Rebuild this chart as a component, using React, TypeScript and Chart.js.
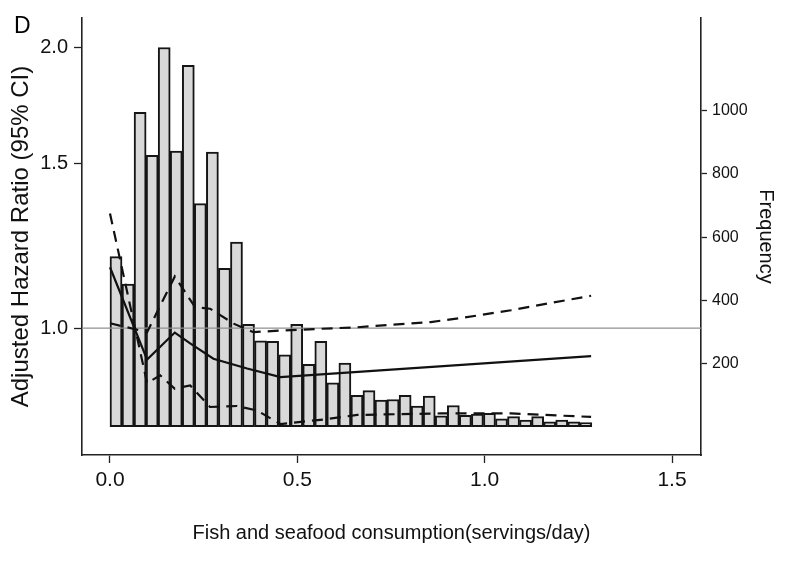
import React, { useEffect, useRef } from "react";
import { Chart, registerables } from "chart.js";

Chart.register(...registerables);

// Histogram of fish and seafood consumption (40 equal bins starting at 0)
const BIN_START = 0;
const BIN_WIDTH = 0.03215;
const FREQUENCY = [
  538, 451, 995, 859, 1200, 872, 1144, 706, 869, 501,
  584, 324, 272, 270, 227, 324, 197, 270, 139, 201,
  99, 114, 84, 86, 99, 65, 97, 34, 67, 36,
  40, 42, 25, 32, 21, 32, 15, 21, 15, 13,
];

// Adjusted hazard ratio curve (solid)
const EST_X = [0, 0.099, 0.173, 0.214, 0.276, 0.366, 0.455, 1.284];
const EST_HR = [1.162, 0.925, 0.989, 0.963, 0.927, 0.905, 0.886, 0.933];

// Confidence bounds (dashed)
const CI_A_X = [0, 0.099, 0.134, 0.173, 0.214, 0.267, 0.339, 0.392, 0.455, 0.57, 0.66, 0.882, 1.07, 1.284];
const CI_A_HR = [1.327, 0.873, 0.89, 0.861, 0.868, 0.823, 0.825, 0.816, 0.789, 0.798, 0.807, 0.81, 0.81, 0.803];
const CI_B_X = [0, 0.099, 0.173, 0.227, 0.267, 0.33, 0.383, 0.455, 0.66, 0.856, 0.944, 1.07, 1.177, 1.284];
const CI_B_HR = [1.012, 0.99, 1.136, 1.053, 1.049, 1.011, 0.99, 0.994, 1.002, 1.015, 1.026, 1.045, 1.064, 1.083];

const REF_HR = 1.0;

const X_TICKS = [0, 0.5, 1.0, 1.5];
const HR_TICKS = [1.0, 1.5, 2.0];
const FREQ_TICKS = [200, 400, 600, 800, 1000];

const X_TITLE = "Fish and seafood consumption(servings/day)";
const HR_TITLE = "Adjusted Hazard Ratio (95% CI)";
const FREQ_TITLE = "Frequency";
const PANEL = "D";

const FONT = '"Liberation Sans", Arial, Helvetica, sans-serif';

export default function App() {
  const ref = useRef<HTMLCanvasElement | null>(null);

  useEffect(() => {
    if (!ref.current) return;
    const X_MIN = -0.0747;
    const X_MAX = 1.5773;
    const pair = (xs: number[], ys: number[]) => xs.map((x, i) => ({ x, y: ys[i] }));
    const bars = FREQUENCY.map((f, i) => ({ x: BIN_START + (i + 0.5) * BIN_WIDTH, y: f }));

    const panelPlugin = {
      id: "panelLabel",
      afterDraw(chart: any) {
        const ctx = chart.ctx;
        ctx.save();
        ctx.font = `23px ${FONT}`;
        ctx.fillStyle = "#000";
        ctx.textBaseline = "alphabetic";
        ctx.textAlign = "left";
        ctx.fillText(PANEL, 14, 33);
        ctx.restore();
      },
    };

    const dash = [11, 7];

    const chart = new Chart(ref.current, {
      type: "line",
      data: {
        datasets: [
          {
            type: "line",
            data: pair(EST_X, EST_HR),
            xAxisID: "x",
            yAxisID: "y",
            borderColor: "#111",
            borderWidth: 2.2,
            pointRadius: 0,
            tension: 0,
            order: 1,
          },
          {
            type: "line",
            data: pair(CI_A_X, CI_A_HR),
            xAxisID: "x",
            yAxisID: "y",
            borderColor: "#111",
            borderWidth: 2.2,
            borderDash: dash,
            pointRadius: 0,
            tension: 0,
            order: 1,
          },
          {
            type: "line",
            data: pair(CI_B_X, CI_B_HR),
            xAxisID: "x",
            yAxisID: "y",
            borderColor: "#111",
            borderWidth: 2.2,
            borderDash: dash,
            pointRadius: 0,
            tension: 0,
            order: 1,
          },
          {
            type: "line",
            data: [
              { x: X_MIN, y: REF_HR },
              { x: X_MAX, y: REF_HR },
            ],
            xAxisID: "x",
            yAxisID: "y",
            borderColor: "#8f8f8f",
            borderWidth: 1.3,
            pointRadius: 0,
            order: 2,
          },
          {
            type: "bar",
            data: bars as any,
            xAxisID: "x",
            yAxisID: "yf",
            backgroundColor: "#d9d9d9",
            borderColor: "#151515",
            borderWidth: 2,
            borderSkipped: false,
            barPercentage: 1,
            categoryPercentage: 1,
            grouped: false,
            order: 3,
          } as any,
        ],
      },
      options: {
        responsive: false,
        animation: false,
        devicePixelRatio: 1,
        layout: { padding: { top: 17, left: 0, right: 0, bottom: 0 } },
        plugins: {
          legend: { display: false },
          tooltip: { enabled: false },
        },
        scales: {
          x: {
            type: "linear",
            position: "bottom",
            bounds: "data",
            min: X_MIN,
            max: X_MAX,
            offset: false,
            afterBuildTicks: (s: any) => {
              s.ticks = X_TICKS.map((v) => ({ value: v }));
            },
            afterFit: (s: any) => {
              s.height = 110;
            },
            ticks: {
              callback: (v: any) => Number(v).toFixed(1),
              font: { size: 21, family: FONT },
              color: "#111",
              padding: 5,
              maxRotation: 0,
              autoSkip: false,
            },
            grid: {
              offset: false,
              drawOnChartArea: false,
              drawTicks: true,
              tickLength: 8,
              color: "#222",
              tickWidth: 1.3,
            },
            border: { display: true, color: "#222", width: 1.6 },
            title: {
              display: true,
              text: X_TITLE,
              font: { size: 20, family: FONT },
              color: "#111",
              padding: { top: 0, bottom: 20 },
            },
          },
          y: {
            type: "logarithmic",
            position: "left",
            bounds: "data",
            min: 0.731,
            max: 2.15,
            afterBuildTicks: (s: any) => {
              s.ticks = HR_TICKS.map((v) => ({ value: v }));
            },
            afterFit: (s: any) => {
              s.width = 82;
            },
            ticks: {
              callback: (v: any) => Number(v).toFixed(1),
              font: { size: 20, family: FONT },
              color: "#111",
              padding: 6,
              autoSkip: false,
            },
            grid: {
              drawOnChartArea: false,
              drawTicks: true,
              tickLength: 8,
              color: "#222",
              tickWidth: 1.3,
            },
            border: { display: true, color: "#222", width: 1.6 },
            title: {
              display: true,
              text: HR_TITLE,
              font: { size: 24, family: FONT },
              color: "#111",
              padding: { top: 7, bottom: 0 },
            },
          },
          yf: {
            type: "linear",
            position: "right",
            bounds: "data",
            min: -89.7,
            max: 1293.5,
            afterBuildTicks: (s: any) => {
              s.ticks = FREQ_TICKS.map((v) => ({ value: v }));
            },
            afterFit: (s: any) => {
              s.width = 99;
            },
            ticks: {
              callback: (v: any) => String(v),
              font: { size: 16, family: FONT },
              color: "#111",
              padding: 5,
              autoSkip: false,
            },
            grid: {
              drawOnChartArea: false,
              drawTicks: true,
              tickLength: 6,
              color: "#222",
              tickWidth: 1.3,
            },
            border: { display: true, color: "#222", width: 1.6 },
            title: {
              display: true,
              text: FREQ_TITLE,
              font: { size: 20, family: FONT },
              color: "#111",
              padding: { top: 22, bottom: 0 },
            },
          },
        },
      } as any,
      plugins: [panelPlugin],
    });

    return () => chart.destroy();
  }, []);

  return (
    <div style={{ position: "absolute", left: 0, top: 0, width: 800, height: 565, background: "#fff" }}>
      <canvas ref={ref} width={800} height={565} style={{ display: "block" }} />
    </div>
  );
}
